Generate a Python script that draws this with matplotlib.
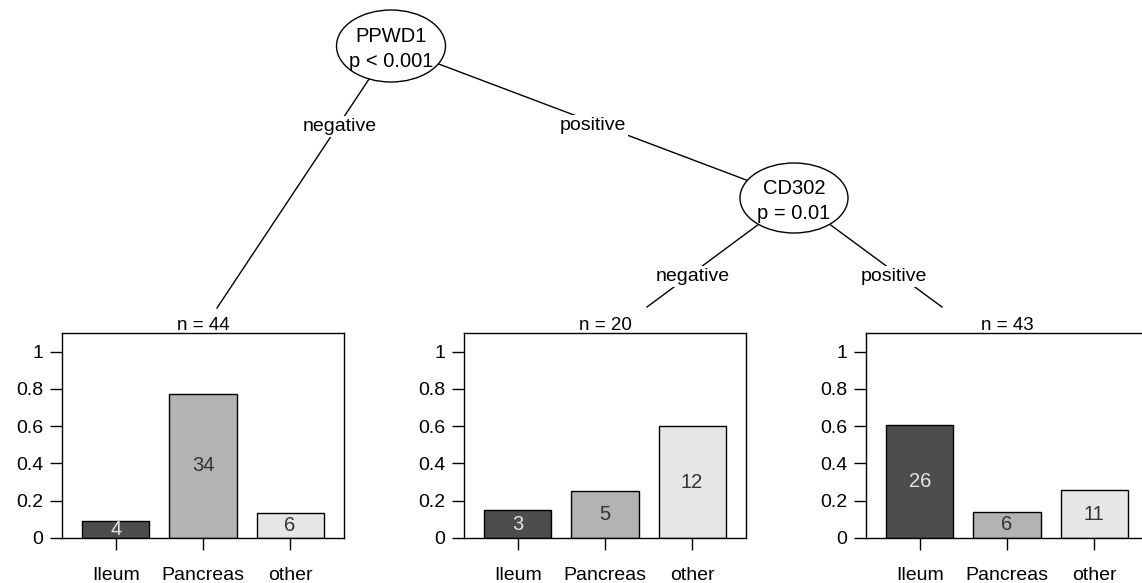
import numpy as np
import matplotlib
matplotlib.use('Agg')
import matplotlib.pyplot as plt
from matplotlib.patches import Ellipse

plt.rcParams['font.family'] = ['Liberation Sans', 'DejaVu Sans']

# data
categories = ['Ileum', 'Pancreas', 'other']
node_names = ['PPWD1', 'CD302']
node_pvalues = ['p < 0.001', 'p = 0.01']
edge_labels = ['negative', 'positive', 'negative', 'positive']
leaf_counts = [
    [4, 34, 6],
    [3, 5, 12],
    [26, 6, 11],
]
bar_colors = ['#4d4d4d', '#b3b3b3', '#e6e6e6']
count_colors = ['#e6e6e6', '#333333', '#333333']

W, H = 1142, 583
fig = plt.figure(figsize=(W / 100, H / 100), dpi=100)

# tree layer, pixel coordinates
tree = fig.add_axes([0, 0, 1, 1])
tree.set_xlim(0, W)
tree.set_ylim(H, 0)
tree.axis('off')

# layout (pixels)
panel_left = [62, 464, 866]
panel_w = 282
panel_top, panel_bottom = 333, 538
node_xy = [(391, 46), (794, 198)]
node_size = [(109, 72), (108, 70)]
# edges: (start, end, label position)
edges = [
    (node_xy[0], (217, 308), (340, 131)),
    (node_xy[0], node_xy[1], (593, 130)),
    (node_xy[1], (647, 307), (693, 281)),
    (node_xy[1], (942, 307), (894, 281)),
]

for (p0, p1, lp), lab in zip(edges, edge_labels):
    tree.plot([p0[0], p1[0]], [p0[1], p1[1]], color='black', lw=1.0, zorder=1)
    tree.text(lp[0], lp[1], lab, ha='center', va='baseline', fontsize=14,
              zorder=3, bbox=dict(facecolor='white', edgecolor='none', pad=1.5))

for (x, y), (w, h), name, pv in zip(node_xy, node_size, node_names, node_pvalues):
    tree.add_patch(Ellipse((x, y), w, h, facecolor='white', edgecolor='black',
                           lw=1.0, zorder=2))
    tree.text(x, y - 4, name, ha='center', va='baseline', fontsize=14.5, zorder=3)
    tree.text(x, y + 21, pv, ha='center', va='baseline', fontsize=14.5, zorder=3)

# terminal bar plots
pos = np.arange(len(categories))
for left, counts in zip(panel_left, leaf_counts):
    n = sum(counts)
    props = np.array(counts) / n
    tree.text(left + panel_w / 2, 329.5, f'n = {n}', ha='center', va='baseline',
              fontsize=13.5, zorder=3,
              bbox=dict(facecolor='white', edgecolor='none', pad=1))
    ax = fig.add_axes([left / W, 1 - panel_bottom / H, panel_w / W,
                       (panel_bottom - panel_top) / H])
    ax.bar(pos, props, width=0.77, color=bar_colors, edgecolor='black', lw=1.0)
    for x, p, c, tc in zip(pos, props, counts, count_colors):
        ax.text(x, p / 2, str(c), ha='center', va='center', fontsize=14.5, color=tc)
    ax.set_xlim(-0.62, 2.62)
    ax.set_ylim(0, 1.1)
    ax.set_yticks([0, 0.2, 0.4, 0.6, 0.8, 1])
    ax.set_yticklabels(['0', '0.2', '0.4', '0.6', '0.8', '1'])
    ax.set_xticks(pos)
    ax.set_xticklabels(categories)
    ax.tick_params(axis='both', direction='out', length=8.6, width=1.0,
                   labelsize=14, colors='black')
    ax.tick_params(axis='y', pad=5)
    ax.tick_params(axis='x', pad=12)
    for s in ax.spines.values():
        s.set_linewidth(1.0)

fig.savefig('out.png', dpi=100)
